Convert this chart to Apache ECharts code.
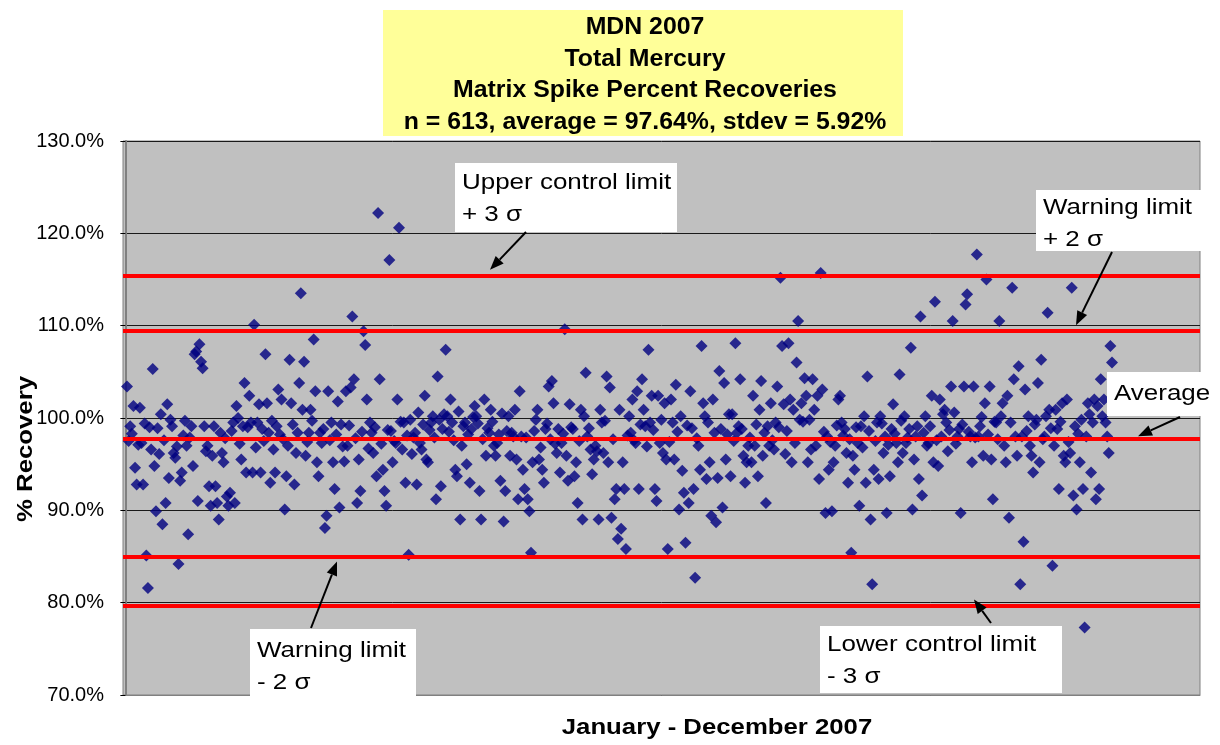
<!DOCTYPE html>
<html>
<head>
<meta charset="utf-8">
<script src="https://cdn.jsdelivr.net/npm/echarts@6/dist/echarts.min.js"></script>
<style>
  html, body { margin: 0; padding: 0; background: #ffffff; }
  #chart { width: 1220px; height: 745px; }
</style>
</head>
<body>
<div id="chart"></div>
<script>
// Matrix spike percent recoveries for total mercury, in analysis order (Jan - Dec 2007).
const block1 = [103.4, 97.5, 99.1, 98.3, 101.3, 94.6, 92.8, 97.1, 101.1, 97.3, 92.8, 99.4, 85.1, 81.6, 99.0, 96.6, 105.3, 94.8, 89.9, 98.9, 96.1, 100.4, 88.5, 97.6, 90.8, 101.5, 93.5, 99.8, 99.1, 96.2, 95.7, 96.9, 84.2, 93.2, 94.1, 98.1, 99.7, 97.0, 87.4, 97.9, 99.1, 94.8, 106.9, 107.2, 91.0, 108.0, 106.1, 105.4, 99.1, 96.4, 97.0, 92.6, 90.5, 95.9, 99.1, 92.6, 90.8, 89.0];
const block2 = [98.4, 96.2, 95.2, 97.8, 91.5, 90.5, 91.9, 98.6, 99.5, 90.8, 101.3, 100.0, 97.2, 95.5, 99.1, 103.8, 94.1, 99.0, 102.4, 99.5, 94.1, 110.1, 96.8, 99.5, 101.5, 94.1, 98.8, 97.5, 106.9, 101.6, 98.4, 93.0, 99.7, 96.6, 94.1, 99.1, 103.1, 98.2, 102.0, 97.7, 90.1, 93.7, 97.0, 106.3, 101.6, 99.3, 92.8, 96.2, 98.4, 103.8, 113.5, 100.9, 106.1, 95.9, 97.4, 98.4, 100.9, 99.7, 108.5, 102.9, 95.2, 93.7];
const block3 = [98.4, 97.3, 98.8, 88.1, 89.4, 102.9, 97.6, 99.5, 95.2, 92.3, 98.2, 101.8, 90.3, 99.3, 96.9, 95.3, 102.9, 97.0, 99.2, 103.3, 111.0, 104.2, 97.8, 90.8, 95.5, 92.1, 98.5, 109.4, 107.9, 102.0, 96.7, 99.5, 98.4, 96.2, 99.0, 93.7, 122.2, 104.2, 97.2, 94.4, 92.1, 90.5, 98.7, 117.1, 98.6, 95.2, 97.5, 97.3, 102.0, 120.6, 99.6, 96.6, 99.5, 93.0, 98.1, 85.2, 99.8, 96.1, 97.9, 98.4, 92.8, 100.6, 97.3];
const block4 = [96.6, 99.3, 102.4, 95.5, 95.2, 98.7, 99.5, 100.2, 97.9, 91.2, 104.5, 99.8, 92.6, 98.8, 100.4, 107.4, 100.2, 98.5, 102.0, 99.5, 97.6, 94.4, 93.7, 100.7, 89.0, 97.0, 99.1, 99.5, 95.0, 98.2, 93.0, 98.8, 100.1, 101.3, 100.2, 99.4, 92.1, 89.0, 97.7, 102.0, 95.9, 98.9, 98.4, 100.9, 99.6, 97.0, 95.9, 97.3, 98.2, 93.2, 100.5, 88.8, 92.1, 98.6, 100.2, 95.9, 98.4, 98.0, 100.9, 95.5, 91.2, 102.9, 98.0];
const block5 = [94.4, 92.3, 97.9, 91.2, 89.9, 85.4, 95.2, 98.6, 99.8, 100.9, 95.5, 96.8, 94.4, 93.0, 98.8, 99.4, 103.4, 97.7, 104.0, 101.6, 97.2, 96.2, 98.8, 94.1, 97.3, 98.3, 109.6, 95.9, 93.2, 101.5, 99.0, 98.8, 93.7, 95.2, 90.8, 97.5, 100.9, 89.0, 100.2, 104.9, 98.0, 98.9, 96.6, 93.9, 95.5, 97.0, 96.4, 89.0, 100.9, 99.5, 96.2, 99.7, 104.5, 95.2, 103.3, 89.2, 97.7, 91.2, 92.3, 86.9, 100.9, 88.0];
const block6 = [95.2, 92.3, 85.8, 98.1, 100.2, 98.4, 102.0, 97.6, 97.3, 102.9, 92.3, 99.3, 104.2, 100.9, 99.1, 96.9, 107.4, 99.5, 102.4, 98.7, 92.3, 91.0, 102.4, 97.3, 99.8, 96.2, 101.6, 95.5, 85.8, 97.4, 102.0, 99.5, 95.5, 103.6, 98.5, 90.1, 100.2, 94.3, 91.9, 86.5, 99.2, 90.8, 102.9, 98.9, 92.3, 82.7, 97.8, 97.0, 94.4, 107.8, 101.6, 100.2, 93.4, 99.5, 95.2, 89.4, 102.0, 98.4, 88.7, 93.5, 105.1, 98.8];
const block7 = [90.3, 103.8, 95.5, 98.2, 100.4, 93.7, 100.4, 97.5, 108.1, 98.4, 99.1, 104.2, 98.8, 95.9, 93.0, 95.2, 97.0, 97.9, 95.2, 102.4, 97.0, 99.3, 93.7, 100.9, 104.0, 95.9, 98.4, 90.8, 99.1, 97.0, 101.6, 97.6, 96.6, 99.5, 103.4, 99.0, 115.2, 107.8, 101.5, 96.1, 98.6, 108.1, 102.0, 95.2, 100.9, 97.3, 106.0, 110.5, 99.8, 101.6, 99.6, 104.3, 102.4, 95.2, 99.8, 96.6, 104.2, 100.9, 97.0, 102.4, 93.4, 115.7];
const block8 = [103.1, 98.5, 89.7, 98.0, 94.4, 97.4, 89.9, 95.2, 97.0, 99.2, 102.0, 102.4, 99.5, 98.1, 98.8, 96.2, 93.0, 97.7, 85.4, 95.9, 94.4, 99.0, 97.3, 90.5, 99.1, 96.8, 100.2, 93.0, 104.5, 98.6, 89.0, 82.0, 94.4, 97.5, 99.5, 93.4, 100.2, 99.4, 96.2, 98.0, 89.7, 97.1, 93.7, 98.8, 101.5, 98.3, 97.3, 95.2, 104.7, 99.7, 96.2, 100.2, 97.3, 97.9, 98.8, 107.6, 90.1, 95.5, 98.0, 99.1, 93.4, 111.0];
const block9 = [91.6, 98.4, 100.2, 97.0, 97.3, 99.1, 102.4, 95.2, 112.6, 97.6, 94.8, 102.0, 98.0, 100.4, 100.9, 99.5, 96.4, 98.7, 103.4, 110.5, 100.6, 97.2, 98.0, 98.8, 89.7, 99.3, 103.4, 112.3, 113.4, 98.5, 98.0, 95.2, 103.4, 97.9, 117.7, 98.0, 99.1, 100.1, 95.9, 101.6, 115.0, 98.2, 103.4, 95.5, 91.2, 99.6, 99.5, 97.7, 110.5, 100.2, 101.6, 97.0, 95.2, 102.4, 89.2, 99.5, 114.1, 104.2, 98.0, 95.9, 105.6, 82.0];
const block10 = [98.0, 86.6, 103.1, 98.6, 100.2, 97.0, 95.9, 94.1, 99.3, 99.8, 103.8, 95.2, 106.3, 97.7, 98.0, 100.2, 111.4, 100.9, 98.9, 84.0, 97.0, 100.9, 98.8, 92.3, 99.6, 101.6, 95.9, 95.2, 102.0, 97.4, 96.2, 114.1, 91.6, 99.1, 90.1, 98.3, 95.2, 99.8, 92.3, 77.3, 98.0, 101.6, 100.4, 94.1, 99.5, 102.0, 91.2, 101.3, 92.3, 104.2, 100.2, 102.0, 99.5, 98.0, 96.2, 107.8, 106.0];

const recoveries = [].concat(block1, block2, block3, block4, block5, block6, block7, block8, block9, block10);

// Control chart limits (% recovery): UCL, upper warning, average, lower warning, LCL
const limitValues = [115.4, 109.4, 97.7, 85.0, 79.7];

const titleLines = ['MDN 2007', 'Total Mercury', 'Matrix Spike Percent Recoveries', 'n = 613, average = 97.64%, stdev = 5.92%'];
const yAxisTitle = '% Recovery';
const xAxisTitle = 'January - December 2007';
const calloutText = [
  ['Upper control limit', '+ 3 σ'],
  ['Warning limit', '+ 2 σ'],
  ['Average'],
  ['Warning limit', '- 2 σ'],
  ['Lower control limit', '- 3 σ']
];

const FONT = '"Liberation Sans", Arial, Helvetica, sans-serif';
const GRID = { left: 123, top: 141, right: 20, bottom: 50 };
const plotW = 1220 - GRID.left - GRID.right;

// Sample numbers run along x; leave a little room before the first and after the last run.
const N = recoveries.length;
const step = (1112 - 127) / (N - 1);
const xMin = 1 - (127 - GRID.left) / step;
const xMax = xMin + plotW / step;

const chart = echarts.init(document.getElementById('chart'), null, { renderer: 'canvas' });

chart.setOption({
  animation: false,
  backgroundColor: '#ffffff',
  grid: {
    left: GRID.left, top: GRID.top, right: GRID.right, bottom: GRID.bottom,
    show: true, backgroundColor: '#C0C0C0', borderColor: '#808080', borderWidth: 1
  },
  xAxis: {
    type: 'value', min: xMin, max: xMax,
    axisLine: { show: true, onZero: false, lineStyle: { color: '#808080', width: 1 } },
    axisTick: { show: false }, axisLabel: { show: false }, splitLine: { show: false }
  },
  yAxis: {
    type: 'value', min: 70, max: 130, interval: 10,
    axisLine: { show: true, lineStyle: { color: '#808080', width: 2 } },
    axisTick: { show: true, length: 5, lineStyle: { color: '#000000' } },
    axisLabel: {
      color: '#000000', fontFamily: FONT, fontSize: 20, margin: 19,
      formatter: v => v.toFixed(1) + '%'
    },
    splitLine: { show: true, lineStyle: { color: '#1a1a1a', width: 1 } }
  },
  series: [
    {
      type: 'scatter',
      data: recoveries.map((v, i) => [i + 1, v]),
      symbol: 'diamond',
      symbolSize: 12,
      itemStyle: { color: '#000080' },
      z: 2
    },
    {
      type: 'line',
      data: [],
      z: 5,
      markLine: {
        silent: true,
        symbol: 'none',
        label: { show: false },
        lineStyle: { color: '#FF0000', width: 4, type: 'solid' },
        data: limitValues.map(v => ({ yAxis: v }))
      }
    }
  ]
});

function yOf(v) {
  return chart.convertToPixel({ gridIndex: 0 }, [1, v])[1];
}

function arrow(x1, y1, x2, y2) {
  const a = Math.atan2(y2 - y1, x2 - x1);
  const L = 14, W = 5.5;
  const bx = x2 - L * Math.cos(a), by = y2 - L * Math.sin(a);
  const px = -Math.sin(a), py = Math.cos(a);
  return [
    { type: 'line', z: 20, shape: { x1: x1, y1: y1, x2: bx, y2: by }, style: { stroke: '#000000', lineWidth: 2 } },
    { type: 'polygon', z: 20, shape: { points: [[x2, y2], [bx + px * W, by + py * W], [bx - px * W, by - py * W]] }, style: { fill: '#000000' } }
  ];
}

// Text drawn a little wide, as in the slide the chart comes from
function label(text, x, y, font, align, opts) {
  return Object.assign({
    type: 'text', z: 16, x: x, y: y,
    style: { text: text, font: font, fill: '#000000', textAlign: align, textVerticalAlign: 'middle' }
  }, opts || {});
}

function callout(lines, box, textX, firstY) {
  const els = [{ type: 'rect', z: 15, shape: box, style: { fill: '#ffffff' } }];
  lines.forEach((t, i) => {
    els.push(label(t, textX, firstY + i * 32, '22px ' + FONT, 'left', { scaleX: 1.18 }));
  });
  return els;
}

const [yUcl, yUwl, yAvg, yLwl, yLcl] = limitValues.map(yOf);

let graphics = [];
// Title block
graphics.push({ type: 'rect', z: 10, shape: { x: 383, y: 10, width: 520, height: 126 }, style: { fill: '#FFFF99' } });
titleLines.forEach((t, i) => {
  graphics.push(label(t, 645, 28 + i * 31.5, 'bold 23px ' + FONT, 'center', { scaleX: 1.08 }));
});
// Axis titles
graphics.push(label(yAxisTitle, 26, 449, 'bold 22px ' + FONT, 'center', { rotation: Math.PI / 2, scaleX: 1.17 }));
graphics.push(label(xAxisTitle, 717, 728, 'bold 22px ' + FONT, 'center', { scaleX: 1.17 }));

// Callouts pointing at the limit lines
graphics = graphics.concat(
  callout(calloutText[0], { x: 455, y: 163, width: 222, height: 69 }, 462, 183),
  arrow(526, 232, 490, yUcl - 6),
  callout(calloutText[1], { x: 1036, y: 190, width: 170, height: 61 }, 1043, 208),
  arrow(1112, 252, 1076, yUwl - 6),
  callout(calloutText[2], { x: 1107, y: 372, width: 110, height: 44 }, 1114, 394),
  arrow(1180, 417, 1138, yAvg - 3),
  callout(calloutText[3], { x: 250, y: 629, width: 166, height: 67 }, 257, 651),
  arrow(311, 628, 337, yLwl + 5),
  callout(calloutText[4], { x: 820, y: 626, width: 242, height: 67 }, 827, 645),
  arrow(991, 623, 974, yLcl - 6)
);

chart.setOption({ graphic: { elements: graphics } });
</script>
</body>
</html>
